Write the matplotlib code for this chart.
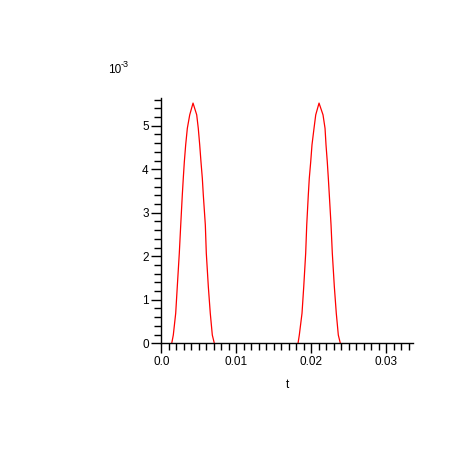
import numpy as np
import matplotlib
matplotlib.use('Agg')
import matplotlib.pyplot as plt
from matplotlib.ticker import MultipleLocator, FixedLocator

plt.rcParams['font.family'] = ['Liberation Sans', 'DejaVu Sans']
plt.rcParams['axes.unicode_minus'] = False

# t in seconds, y in units of 1e-3
t1 = [0.00139, 0.00160, 0.00192, 0.00213, 0.00240, 0.00259, 0.00280, 0.00293,
      0.00307, 0.00325, 0.00347, 0.00379, 0.00423, 0.00472, 0.00493, 0.00512,
      0.00529, 0.00547, 0.00560, 0.00587, 0.00600, 0.00627, 0.00653, 0.00680, 0.00707]
y1_e3 = [0.0, 0.19, 0.69, 1.30, 2.07, 2.72, 3.41, 3.79,
         4.17, 4.56, 4.94, 5.25, 5.52, 5.25, 4.94, 4.56,
         4.17, 3.79, 3.41, 2.72, 2.07, 1.30, 0.69, 0.19, 0.0]
t2 = [0.01823, 0.01840, 0.01876, 0.01899, 0.01925, 0.01939, 0.01960, 0.01973,
      0.01992, 0.02009, 0.02036, 0.02059, 0.02103, 0.02156, 0.02183, 0.02196,
      0.02213, 0.02227, 0.02240, 0.02263, 0.02280, 0.02307, 0.02333, 0.02360, 0.02387]
y2_e3 = [0.0, 0.19, 0.69, 1.30, 2.07, 2.72, 3.41, 3.79,
         4.17, 4.56, 4.94, 5.25, 5.52, 5.25, 4.94, 4.56,
         4.17, 3.79, 3.41, 2.72, 2.07, 1.30, 0.69, 0.19, 0.0]

xticks = [0.0, 0.01, 0.02, 0.03]
xtick_labels = ['0.0', '0.01', '0.02', '0.03']
yticks = [0, 1, 2, 3, 4, 5]

fig = plt.figure(figsize=(4.67, 4.67), dpi=100, facecolor='w')
ax = fig.add_axes([0.3454, 0.2649, 0.539, 0.5246])

ax.plot(t1, y1_e3, color='red', lw=0.9, zorder=1)
ax.plot(t2, y2_e3, color='red', lw=0.9, zorder=1)

ax.set_xlim(0, 0.03356)
ax.set_ylim(0, 5.63)

ax.spines['top'].set_visible(False)
ax.spines['right'].set_visible(False)
ax.spines['left'].set_linewidth(1.0)
ax.spines['bottom'].set_linewidth(1.0)

ax.xaxis.set_major_locator(FixedLocator(xticks))
ax.set_xticklabels(xtick_labels)
ax.xaxis.set_minor_locator(MultipleLocator(0.001))
ax.yaxis.set_major_locator(FixedLocator(yticks))
ax.yaxis.set_minor_locator(MultipleLocator(0.2))

ax.tick_params(which='major', length=7, width=1, labelsize=8.5, pad=2)
ax.tick_params(which='minor', length=5, width=1)

ax.set_xlabel('t', fontsize=8.5, labelpad=8)

fig.text(108 / 467, 1 - 73 / 467, '10', fontsize=8.5)
fig.text(121 / 467, 1 - 67 / 467, '-3', fontsize=6.5)

plt.savefig('out.png', dpi=100)
